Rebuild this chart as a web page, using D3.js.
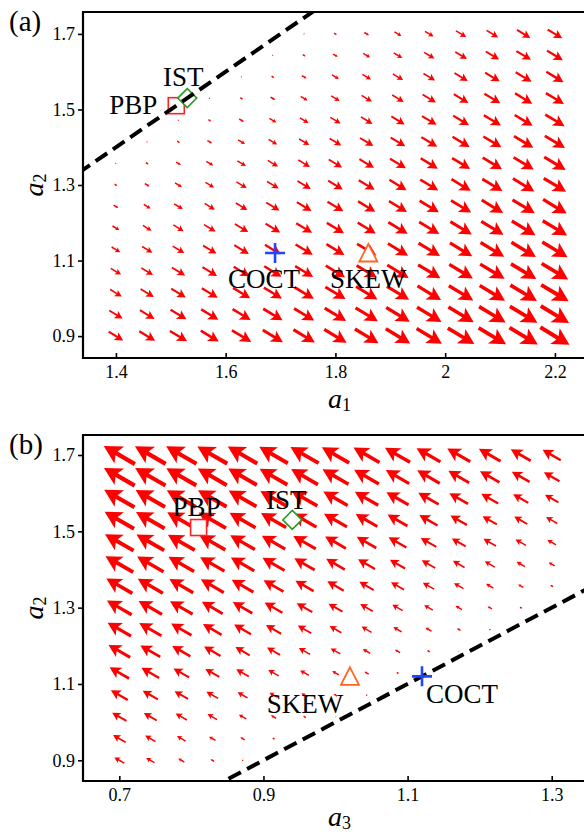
<!DOCTYPE html>
<html>
<head>
<meta charset="utf-8">
<script src="https://cdn.jsdelivr.net/npm/d3@7"></script>
<style>
body { margin: 0; background: #fff; }
svg { display: block; }
</style>
</head>
<body>
<div id="chart"></div>
<script>
// grid points of the vector fields
var a1Grid = [1.4, 1.457, 1.514, 1.571, 1.629, 1.686, 1.743, 1.8, 1.857, 1.914, 1.971, 2.029, 2.086, 2.143, 2.2]
var a3Grid = [0.7, 0.743, 0.786, 0.829, 0.871, 0.914, 0.957, 1.0, 1.043, 1.086, 1.129, 1.171, 1.214, 1.257, 1.3]
var a2Grid = [1.7, 1.643, 1.586, 1.529, 1.471, 1.414, 1.357, 1.3, 1.243, 1.186, 1.129, 1.071, 1.014, 0.957, 0.9] // top to bottom

var n = null // no arrow at this grid point

// arrow magnitudes, rows follow a2Grid, columns follow a1Grid
var magA = [
    [n,n,n,n,n,n,1,3,5.5,8,10,12,13.5,15.5,17],
    [n,n,n,n,n,1,3,5.5,8,10,12,13.5,15.5,17,18.5],
    [n,n,n,n,1,3,5.5,8,10,12,13.5,15.5,17,18.5,20],
    [n,n,n,1,3,5.5,8,10,12,13.5,15.5,17,18.5,20,21],
    [n,n,1,3,5.5,8,10,12,13.5,15.5,17,18.5,20,21,22.5],
    [n,1,3,5.5,8,10,12,13.5,15.5,17,18.5,20,21,22.5,23.5],
    [1,3,5.5,8,10,12,13.5,15.5,17,18.5,20,21,22.5,23.5,25],
    [3,5.5,8,10,12,13.5,15.5,17,18.5,20,21,22.5,23.5,25,26],
    [5.5,8,10,12,13.5,15.5,17,18.5,20,21,22.5,23.5,25,26,27.5],
    [8,10,12,13.5,15.5,17,18.5,20,21,22.5,23.5,25,26,27.5,28.5],
    [10,12,13.5,15.5,17,18.5,20,21,22.5,23.5,25,26,27.5,28.5,29.5],
    [12,13.5,15.5,17,18.5,20,21,22.5,23.5,25,26,27.5,28.5,29.5,31],
    [13.5,15.5,17,18.5,20,21,22.5,23.5,25,26,27.5,28.5,29.5,31,32],
    [15.5,17,18.5,20,21,22.5,23.5,25,26,27.5,28.5,29.5,31,32,33],
    [17,18.5,20,21,22.5,23.5,25,26,27.5,28.5,29.5,31,32,33,34]
]
// rows follow a2Grid, columns follow a3Grid
var magB = [
    [36,35.5,35,34.5,34,33,32.5,31.5,30,29,27.5,26.5,25,23,21],
    [35.5,35,34.5,33.5,33,32,31,30,28.5,27,26,24,22.5,20.5,18],
    [35,34,33.5,33,32,30.5,29.5,28,27,25.5,23.5,21.5,19.5,17.5,15.5],
    [34,33,32.5,31.5,30,29,27.5,26.5,25,23,21,19,16.5,15,13],
    [33,32,31,30,28.5,27,26,24,22.5,20.5,18,16,14.5,12,10],
    [32,30.5,29.5,28,27,25.5,23.5,21.5,19.5,17.5,15.5,13.5,11.5,9.5,7],
    [30,29,27.5,26.5,25,23,21,19,16.5,15,13,11,8.5,6,3],
    [28.5,27,26,24,22.5,20.5,18,16,14.5,12,10,7.5,5,2.3,n],
    [27,25.5,23.5,21.5,19.5,17.5,15.5,13.5,11.5,9.5,7,4,1.5,n,n],
    [25,23,21,19,16.5,15,13,11,8.5,6,3,0.7,n,n,n],
    [22.5,20.5,18,16,14.5,12,10,7.5,5,2.3,n,n,n,n,n],
    [19.5,17.5,15.5,13.5,11.5,9.5,7,4,1.5,n,n,n,n,n,n],
    [16.5,15,13,11,8.5,6,3,0.7,n,n,n,n,n,n,n],
    [14.5,12,10,7.5,5,2.3,n,n,n,n,n,n,n,n,n],
    [11.5,9.5,7,4,1.5,n,n,n,n,n,n,n,n,n,n]
]
// field direction (in axis units)
var dirA = [1, -0.875]
var dirB = [-1, 1.09]

// boundary lines a2 = a1 and a2 = a3
var boundaryA = [[1.3, 1.3], [1.8, 1.8]]
var boundaryB = [[0.8, 0.8], [1.4, 1.4]]

// models
var models = ["PBP", "IST", "COCT", "SKEW"]
var modelA1 = [1.51, 1.53, 1.69, 1.86]
var modelA2 = [1.51, 1.53, 1.12, 1.12]
var modelA3 = [0.81, 0.94, 1.12, 1.02]

// ticks
var ticksA1 = [1.4, 1.6, 1.8, 2.0, 2.2]
var tickLabelsA1 = ["1.4", "1.6", "1.8", "2", "2.2"]
var ticksA2 = [0.9, 1.1, 1.3, 1.5, 1.7]
var tickLabelsA2 = ["0.9", "1.1", "1.3", "1.5", "1.7"]
var ticksA3 = [0.7, 0.9, 1.1, 1.3]
var tickLabelsA3 = ["0.7", "0.9", "1.1", "1.3"]

var serif = "'Liberation Serif', 'Times New Roman', serif"
var width = 584, height = 832

var svg = d3.select("#chart").append("svg")
    .attr("width", width)
    .attr("height", height)
    .style("font-family", serif)

var lenScale = d3.scaleLinear().domain([0, 36]).range([0, 36])

function arrowPath(cx, cy, ux, uy, L) {
    var hl = Math.max(0.5 * L, 1.3)
    var hw = Math.max(0.27 * L, 1.2)
    var sw = Math.max(0.06 * L, 0.75)
    var nx = -uy, ny = ux
    var tx = cx - ux * L / 2, ty = cy - uy * L / 2
    var hx = cx + ux * L / 2, hy = cy + uy * L / 2
    var bx = hx - ux * hl, by = hy - uy * hl
    var kx = hx - ux * hl * 0.82, ky = hy - uy * hl * 0.82
    var pts = [
        [tx + nx * sw, ty + ny * sw],
        [kx + nx * sw, ky + ny * sw],
        [bx + nx * hw, by + ny * hw],
        [hx, hy],
        [bx - nx * hw, by - ny * hw],
        [kx - nx * sw, ky - ny * sw],
        [tx - nx * sw, ty - ny * sw]
    ]
    return "M" + pts.map(function(p){ return p[0].toFixed(2) + "," + p[1].toFixed(2) }).join("L") + "Z"
}

var markerColor = {"PBP": "#ff2020", "IST": "#2a9a2a", "COCT": "#1f45ff", "SKEW": "#ff6622"}

function drawMarker(g, name, cx, cy) {
    var c = markerColor[name]
    if (name == "PBP") {
        g.append("rect").attr("x", cx - 8).attr("y", cy - 8).attr("width", 16).attr("height", 16)
            .attr("fill", "#fff").attr("stroke", c).attr("stroke-width", 1.6)
    } else if (name == "IST") {
        g.append("path").attr("d", "M" + cx + "," + (cy - 9.5) + "L" + (cx + 9.5) + "," + cy + "L" + cx + "," + (cy + 9.5) + "L" + (cx - 9.5) + "," + cy + "Z")
            .attr("fill", "#fff").attr("stroke", c).attr("stroke-width", 1.6)
    } else if (name == "SKEW") {
        g.append("path").attr("d", "M" + cx + "," + (cy - 9) + "L" + (cx + 9) + "," + (cy + 8.5) + "L" + (cx - 9) + "," + (cy + 8.5) + "Z")
            .attr("fill", "#fff").attr("stroke", c).attr("stroke-width", 1.8).attr("stroke-linejoin", "miter")
    }
}
function drawPlus(g, cx, cy) {
    g.append("path").attr("d", "M" + (cx - 10) + "," + cy + "H" + (cx + 10) + "M" + cx + "," + (cy - 10) + "V" + (cy + 10))
        .attr("stroke", markerColor["COCT"]).attr("stroke-width", 2.6).attr("fill", "none")
}

function drawPanel(p) {
    var x = p.x, y = p.y
    var g = svg.append("g")
    var x0 = x.range()[0], x1 = x.range()[1], y0 = y.range()[0], y1 = y.range()[1]

    g.append("clipPath").attr("id", "clip" + p.id)
        .append("rect").attr("x", x0).attr("y", y1).attr("width", x1 - x0).attr("height", y0 - y1)

    // vector field
    var cells = []
    p.mag.forEach(function(row, j) {
        row.forEach(function(m, i) {
            if (m != null) cells.push({gx: p.xGrid[i], gy: a2Grid[j], m: m})
        })
    })
    var ddx = x(p.xGrid[0] + p.dir[0] * 0.01) - x(p.xGrid[0])
    var ddy = y(1 + p.dir[1] * 0.01) - y(1)
    var norm = Math.sqrt(ddx * ddx + ddy * ddy)
    var ux = ddx / norm, uy = ddy / norm

    g.append("g").selectAll("path")
        .data(cells)
        .enter()
        .append("path")
        .attr("d", function(d){ return arrowPath(x(d.gx), y(d.gy), ux, uy, lenScale(d.m)) })
        .attr("fill", "#ff0000")

    // markers
    var mg = g.append("g")
    models.forEach(function(name, k) {
        drawMarker(mg, name, x(p.mx[k]), y(modelA2[k]))
    })

    // boundary line
    g.append("path")
        .attr("clip-path", "url(#clip" + p.id + ")")
        .attr("d", d3.line().x(function(d){ return x(d[0]) }).y(function(d){ return y(d[1]) })(p.boundary))
        .attr("fill", "none")
        .attr("stroke", "#000")
        .attr("stroke-width", 4)
        .attr("stroke-dasharray", "14,7")

    models.forEach(function(name, k) {
        if (name == "COCT") drawPlus(g, x(p.mx[k]), y(modelA2[k]))
    })

    // marker labels
    models.forEach(function(name, k) {
        var off = p.labelOffsets[k]
        g.append("text")
            .attr("x", x(p.mx[k]) + off[0])
            .attr("y", y(modelA2[k]) + off[1])
            .attr("text-anchor", off[2])
            .style("font-family", serif)
            .style("font-size", "27px")
            .attr("fill", "#000")
            .text(name)
    })

    // axes
    var yAxis = d3.axisLeft(y).tickValues(ticksA2).tickFormat(function(d, i){ return tickLabelsA2[i] })
        .tickSizeInner(5).tickSizeOuter(0).tickPadding(3)
    var xAxis = d3.axisBottom(x).tickValues(p.xTicks).tickFormat(function(d, i){ return p.xTickLabels[i] })
        .tickSizeInner(-5).tickSizeOuter(0).tickPadding(7)

    var ya = g.append("g").attr("transform", "translate(" + x0 + ",0)").call(yAxis)
    var xa = g.append("g").attr("transform", "translate(0," + y0 + ")").call(xAxis)
    ;[ya, xa].forEach(function(a) {
        a.attr("font-family", null).attr("font-size", null)
        a.select(".domain").remove()
        a.selectAll(".tick line").attr("stroke", "#000").attr("stroke-width", 1.6)
        a.selectAll(".tick text")
            .style("font-family", serif)
            .style("font-size", "18px")
            .attr("fill", "#000")
    })

    // frame: left, bottom, top
    g.append("path")
        .attr("d", "M" + x1 + "," + y1 + "H" + x0 + "V" + y0 + "H" + x1)
        .attr("fill", "none").attr("stroke", "#000").attr("stroke-width", 2.2)

    // axis titles
    var xt = g.append("text")
        .attr("x", (x0 + x1) / 2 + 6)
        .attr("y", y0 + p.titleGap)
        .attr("text-anchor", "middle")
        .style("font-family", serif)
        .style("font-size", "28px")
    xt.append("tspan").attr("font-style", "italic").text("a")
    xt.append("tspan").style("font-size", "18px").attr("dy", 2.5).text(p.xSub)

    var yt = g.append("text")
        .attr("transform", "translate(43," + ((y0 + y1) / 2) + ") rotate(-90)")
        .attr("text-anchor", "middle")
        .style("font-family", serif)
        .style("font-size", "28px")
    yt.append("tspan").attr("font-style", "italic").text("a")
    yt.append("tspan").style("font-size", "18px").attr("dy", 2.5).text("2")

    g.append("text")
        .attr("x", 9)
        .attr("y", y1 + 19)
        .style("font-family", serif)
        .style("font-size", "29px")
        .text(p.letter)
}

drawPanel({
    id: "a",
    letter: "(a)",
    x: d3.scaleLinear().domain([1.34, 2.253]).range([83, 584]),
    y: d3.scaleLinear().domain([0.842, 1.758]).range([358, 12]),
    xGrid: a1Grid,
    mag: magA,
    dir: dirA,
    boundary: boundaryA,
    mx: modelA1,
    xTicks: ticksA1,
    xTickLabels: tickLabelsA1,
    xSub: "1",
    titleGap: 50,
    labelOffsets: [[-19, 8.5, "end"], [-4, -12, "middle"], [-11, 35, "middle"], [0, 35, "middle"]]
})

drawPanel({
    id: "b",
    letter: "(b)",
    x: d3.scaleLinear().domain([0.6496, 1.3448]).range([83, 584]),
    y: d3.scaleLinear().domain([0.8457, 1.7525]).range([781, 435]),
    xGrid: a3Grid,
    mag: magB,
    dir: dirB,
    boundary: boundaryB,
    mx: modelA3,
    xTicks: ticksA3,
    xTickLabels: tickLabelsA3,
    xSub: "3",
    titleGap: 45,
    labelOffsets: [[-2, -11.5, "middle"], [-6, -11, "middle"], [40, 27, "middle"], [-45, 37, "middle"]]
})
</script>
</body>
</html>
